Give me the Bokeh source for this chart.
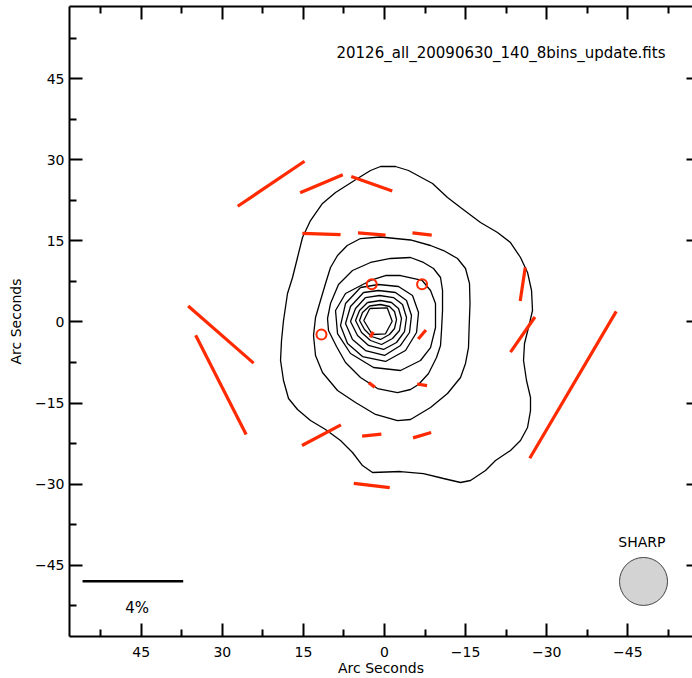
import numpy as np
from bokeh.plotting import figure
from bokeh.models import Range1d, LinearAxis, FixedTicker, Label, CustomLabelingPolicy
from bokeh.embed import file_html
from bokeh.resources import INLINE

# ---------------- data (arc seconds) ----------------
# polarization vectors: centre, percent polarization, position angle (deg, E of N)
vec_x = [20.97, 11.66, 2.36, 11.66, 2.36, -6.95, -25.56, 30.26, 2.36, -6.95,
         -25.56, 30.26, 2.36, -6.95, -34.86, 11.66, 2.36, -6.95, 2.36]
vec_y = [25.55, 25.55, 25.55, 16.27, 16.27, 16.27, 6.96, -2.34, -2.34, -2.34,
         -2.34, -11.64, -11.64, -11.64, -11.64, -20.95, -20.95, -20.95, -30.25]
vec_pol = [3.20, 1.84, 1.73, 1.52, 1.10, 0.77, 1.34, 3.45, 0.25, 0.47,
           1.70, 4.42, 0.30, 0.40, 6.77, 1.75, 0.77, 0.75, 1.44]
vec_pa = [-56.0, -67.1, 70.4, 88.1, 85.3, 83.3, -8.6, 48.9, -25.5, -40.6,
          -34.8, 27.0, 53.5, 80.5, -30.5, -62.1, -84.1, -73.4, 83.2]

# upper-limit positions (circles)
lim_x = [2.36, -6.95, 11.66]
lim_y = [6.96, 6.96, -2.34]

# intensity contours (outer to inner)
c1_x = [2.59, 0.74, -2.03, -4.44, -8.88, -11.65, -14.06, -17.75, -20.9, -23.3, -25.15, -26.45,
        -27.19, -27.37, -26.63, -25.89, -25.71, -26.26, -27.0, -27.0, -26.45, -25.15, -23.3,
        -20.53, -18.68, -15.9, -14.06, -10.91, -7.21, -2.96, 2.22, 4.07, 5.92, 8.14, 10.91,
        13.69, 16.09, 17.75, 18.68, 19.23, 19.05, 18.68, 17.94, 17.01, 16.09, 15.17, 13.69,
        11.47, 9.06, 4.99, 2.59]
c1_y = [28.0, 28.74, 28.74, 28.0, 25.6, 23.0, 21.16, 18.38, 16.53, 14.68, 11.91, 9.14,
        5.81, 2.11, -1.04, -3.99, -7.14, -10.84, -13.98, -16.39, -19.53, -21.93, -23.78,
        -25.63, -27.48, -29.33, -29.7, -28.96, -28.04, -27.67, -27.85, -26.56, -24.15, -21.93,
        -19.9, -18.24, -16.2, -14.17, -10.84, -7.14, -3.44, 0.26, 5.25, 8.21, 11.91, 15.61,
        18.75, 21.9, 23.93, 26.52, 28.0]
c2_x = [6.9, 4.44, 0.74, -4.81, -8.51, -10.91, -13.5, -14.98, -15.72, -15.81, -15.63, -15.53,
        -14.98, -14.06, -11.65, -8.51, -4.81, -2.4, 1.66, 5.36, 8.69, 11.47, 12.76, 13.13,
        12.76, 11.84, 10.91, 9.99, 8.69, 6.9]
c2_y = [14.13, 15.42, 15.7, 15.15, 14.13, 13.2, 11.73, 9.88, 7.1, 3.4, -1.59, -4.74,
        -7.69, -10.28, -13.24, -15.83, -18.05, -18.24, -17.12, -14.91, -12.69, -9.36, -6.21,
        -2.52, 0.81, 3.96, 7.1, 10.06, 12.28, 14.13]
c3_x = [-1.11, -4.81, -7.21, -9.06, -10.36, -10.73, -10.73, -10.54, -10.36, -9.62, -8.14,
        -6.29, -4.81, -2.4, 1.29, 4.44, 7.21, 8.88, 10.36, 10.54, 9.99, 8.51, 5.92, 2.59, -1.11]
c3_y = [11.73, 11.91, 10.99, 9.88, 8.21, 5.81, 2.11, -1.59, -4.37, -6.58, -9.54,
        -11.58, -12.5, -13.06, -12.32, -10.28, -7.51, -4.55, -1.59, 0.63, 3.4, 6.92, 9.51, 10.99, 11.73]
c4_x = [2.59, -0.18, -2.96, -6.97, -8.51, -9.43, -9.43, -8.51, -6.66, -2.96, 2.03, 6.29,
        8.69, 9.06, 7.21, 2.59]
c4_y = [7.66, 8.58, 8.58, 7.66, 5.81, 3.4, -1.04, -4.74, -7.14, -8.99, -8.43, -5.84,
        -2.15, 2.11, 5.25, 7.66]
c5_x = [4.44, 1.11, -2.59, -5.18, -6.29, -5.92, -3.88, -0.18, 4.07, 6.84, 8.14, 7.21, 4.44]
c5_y = [6.36, 6.92, 6.55, 4.88, 1.74, -1.96, -5.29, -7.32, -6.40, -3.99, -0.67, 3.40, 6.36]
c6_x = [3.88, 1.11, -2.03, -4.07, -4.99, -4.62, -2.96, 0.0, 3.51, 5.92, 7.21, 6.29, 3.88]
c6_y = [5.44, 5.81, 5.44, 3.96, 1.18, -1.96, -4.36, -6.21, -5.29, -3.25, -0.30, 2.85, 5.44]
c7_x = [3.51, 0.92, -1.66, -3.33, -4.07, -3.70, -2.22, 0.18, 2.96, 4.99, 6.29, 5.36, 3.51]
c7_y = [4.51, 4.88, 4.51, 3.22, 0.81, -1.78, -3.81, -5.10, -4.36, -2.52, 0.07, 2.48, 4.51]
c8_x = [3.14, 0.74, -1.29, -2.59, -3.14, -2.77, -1.48, 0.55, 2.59, 4.25, 5.36, 4.62, 3.14]
c8_y = [3.59, 3.96, 3.59, 2.48, 0.63, -1.59, -3.07, -4.18, -3.44, -1.96, 0.26, 2.11, 3.59]
c9_x = [2.77, 0.74, -0.92, -1.85, -2.22, -1.85, -0.92, 0.74, 2.40, 3.70, 4.62, 4.07, 2.77]
c9_y = [2.94, 3.22, 2.85, 1.92, 0.44, -1.22, -2.33, -3.25, -2.70, -1.41, 0.26, 1.74, 2.94]
c10_x = [2.72, -0.5, -1.42, -0.18, 2.27, 3.83, 2.72]
c10_y = [2.48, 2.61, 0.13, -2.20, -2.33, 0.26, 2.48]

# axis ticks
tick_vals = [45, 30, 15, 0, -15, -30, -45]
tick_labels = ["45", "30", "15", "0", "\u221215", "\u221230", "\u221245"]
minor_vals = [52.5, 37.5, 22.5, 7.5, -7.5, -22.5, -37.5, -52.5]
axis_title = "Arc Seconds"

# annotations
title_text = "20126_all_20090630_140_8bins_update.fits"
beam_name = "SHARP"
beam_x, beam_y, beam_diam = -47.9, -48.0, 8.88
bar_pct = 4
bar_x0, bar_y = 55.85, -47.96
bar_label_x, bar_label_y = 45.74, -53.0
arcsec_per_pct = 4.655

# ---------------- figure ----------------
FONT = "DejaVu Sans"
RED = "#ff2a00"

p = figure(width=692, height=678,
           x_range=Range1d(58.26, -56.96), y_range=Range1d(-58.18, 58.33),
           output_backend="svg", toolbar_location=None,
           x_axis_location=None, y_axis_location=None,
           min_border_left=69, min_border_right=0, min_border_top=6, min_border_bottom=42)
p.outline_line_color = None
p.background_fill_color = "white"
p.border_fill_color = "white"
p.grid.visible = False

overrides = {v: s for v, s in zip(tick_vals, tick_labels)}


def make_axis(side, labels=True, tick_in=13, minor_in=7, line=True, standoff=11):
    ax = LinearAxis(ticker=FixedTicker(ticks=tick_vals, minor_ticks=minor_vals))
    ax.major_tick_in = tick_in
    ax.major_tick_out = 0
    ax.minor_tick_in = minor_in
    ax.minor_tick_out = 0
    ax.major_tick_line_width = 2
    ax.minor_tick_line_width = 2
    ax.major_tick_line_color = "black"
    ax.minor_tick_line_color = "black" if minor_in > 0 else None
    ax.axis_line_width = 2
    ax.axis_line_color = "black" if line else None
    if labels:
        ax.major_label_overrides = overrides
        ax.major_label_text_font = FONT
        ax.major_label_text_font_size = "14px"
        ax.major_label_text_color = "black"
        ax.major_label_standoff = standoff
        ax.axis_label = axis_title
        ax.axis_label_text_font = FONT
        ax.axis_label_text_font_size = "14px"
        ax.axis_label_text_font_style = "normal"
        ax.axis_label_text_color = "black"
    else:
        ax.major_label_text_font_size = "0px"
        ax.major_label_standoff = 0
        ax.major_label_policy = CustomLabelingPolicy(code="return []")
    p.add_layout(ax, side)
    return ax


bottom = make_axis("below", standoff=10)
bottom.axis_label_standoff = 0
left = make_axis("left", standoff=5)
left.axis_label_standoff = 8
make_axis("above", labels=False)
make_axis("right", labels=False, tick_in=6, minor_in=0, line=False)

# contours
cxs = [c1_x, c2_x, c3_x, c4_x, c5_x, c6_x, c7_x, c8_x, c9_x, c10_x]
cys = [c1_y, c2_y, c3_y, c4_y, c5_y, c6_y, c7_y, c8_y, c9_y, c10_y]
p.multi_line(xs=cxs, ys=cys, line_color="black", line_width=1.3)

# polarization vectors
vx = np.array(vec_x)
vy = np.array(vec_y)
half = 0.5 * np.array(vec_pol) * arcsec_per_pct
pa = np.radians(np.array(vec_pa))
p.segment(x0=vx - half * np.sin(pa), y0=vy - half * np.cos(pa),
          x1=vx + half * np.sin(pa), y1=vy + half * np.cos(pa),
          line_color=RED, line_width=3.2)

# upper limits
p.scatter(lim_x, lim_y, marker="circle", size=10, fill_color=None,
          line_color=RED, line_width=2)

# scale bar
p.segment(x0=[bar_x0], y0=[bar_y], x1=[bar_x0 - bar_pct * arcsec_per_pct], y1=[bar_y],
          line_color="black", line_width=2.5)
p.add_layout(Label(x=bar_label_x, y=bar_label_y, text=f"{bar_pct}%",
                   text_align="center", text_baseline="middle",
                   text_font=FONT, text_font_size="15px", text_color="black"))

# beam
p.circle(x=[beam_x], y=[beam_y], radius=beam_diam / 2, fill_color="#d3d3d3",
         line_color="#444444", line_width=1)
p.add_layout(Label(x=-47.59, y=-40.67, text=beam_name, text_align="center",
                   text_baseline="middle", text_font=FONT, text_font_size="14px",
                   text_color="black"))

# file name
p.add_layout(Label(x=-51.97, y=49.64, text=title_text, text_align="right",
                   text_baseline="middle", text_font=FONT, text_font_size="15px",
                   text_color="black"))

open("out.html", "w").write(file_html(p, INLINE))
